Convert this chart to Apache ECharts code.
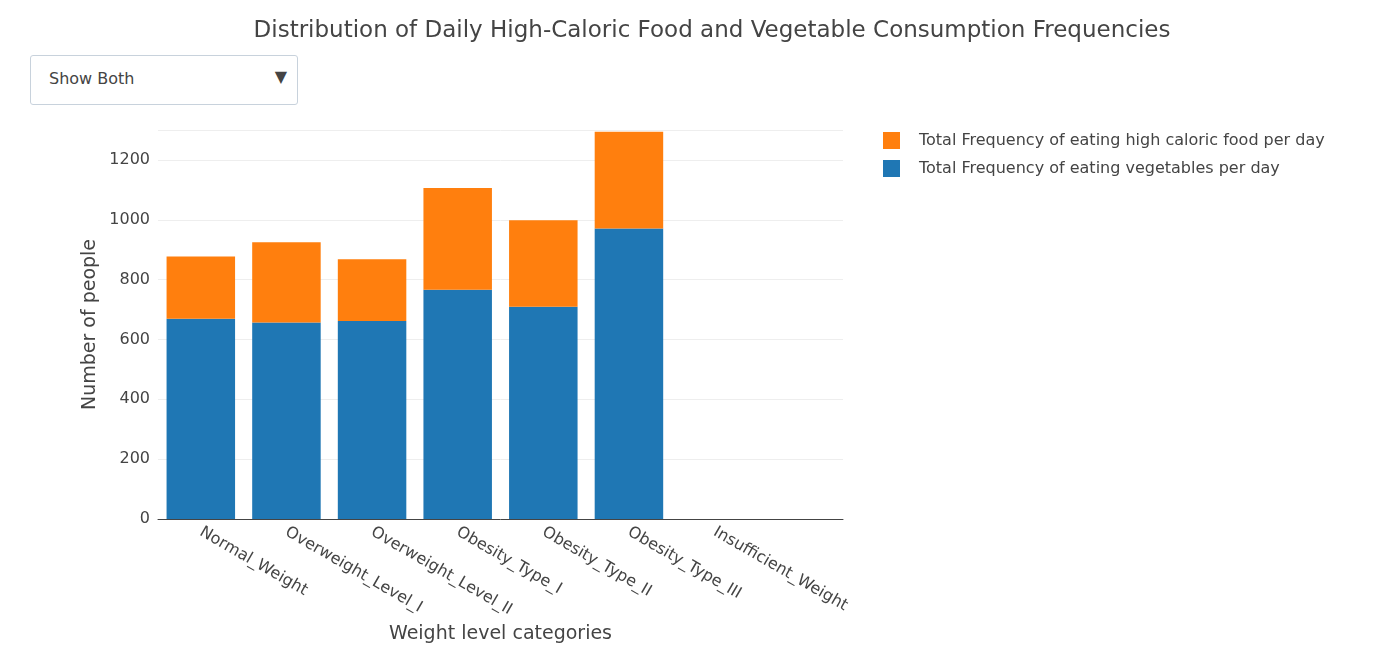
<!DOCTYPE html>
<html><head><meta charset="utf-8">
<script src="https://cdn.jsdelivr.net/npm/echarts@6/dist/echarts.min.js"></script>
<style>body{margin:0;background:#fff}#c{width:1392px;height:649px}
#sel{position:absolute;left:30px;top:55px;width:268px;height:50px;border:1px solid #c8d2dc;border-radius:3px;box-sizing:border-box;font:16px "DejaVu Sans",sans-serif;color:#444;padding:13px 18px;background:#fff}
#sel span{position:absolute;right:10px;top:11px;font-size:16px}</style></head>
<body><div id="c"></div><div id="sel">Show Both<span>▼</span></div>
<script>
const categories=['Normal_Weight','Overweight_Level_I','Overweight_Level_II','Obesity_Type_I','Obesity_Type_II','Obesity_Type_III','Insufficient_Weight',''];
const vegetables=[669,657,662,766,709,971,0,0];
const highCaloric=[208,268,206,340,289,323,0,0];
const ch=echarts.init(document.getElementById('c'));
const font='"DejaVu Sans", sans-serif';
ch.setOption({
 animation:false,
 title:{text:'Distribution of Daily High-Caloric Food and Vegetable Consumption Frequencies',left:707,top:15,textAlign:'center',textStyle:{fontFamily:font,fontSize:23,fontWeight:'normal',color:'#444'}},
 legend:{left:878,top:127,orient:'vertical',itemWidth:17,itemHeight:17,itemGap:11,icon:'rect',textStyle:{fontFamily:font,fontSize:16,color:'#444',padding:[0,0,0,14]},
  data:['Total Frequency of eating high caloric food per day','Total Frequency of eating vegetables per day']},
 grid:{left:158,right:549,top:130,bottom:130},
 xAxis:{type:'category',data:categories,name:'Weight level categories',nameLocation:'middle',nameGap:100,nameTextStyle:{fontFamily:font,fontSize:19,color:'#444'},
  axisTick:{show:false},axisLine:{lineStyle:{color:'#444'}},axisLabel:{rotate:-30,fontFamily:font,fontSize:16,color:'#444',interval:0,margin:12}},
 yAxis:{type:'value',min:0,max:1300,interval:200,name:'Number of people',nameLocation:'middle',nameGap:58,nameTextStyle:{fontFamily:font,fontSize:19,color:'#444'},
  axisLabel:{fontFamily:font,fontSize:16,color:'#444',showMaxLabel:false,formatter:v=>String(v)},splitLine:{lineStyle:{color:'#eee'}}},
 series:[
  {name:'Total Frequency of eating vegetables per day',type:'bar',stack:'a',data:vegetables,barCategoryGap:'20%',itemStyle:{color:'#1f77b4'}},
  {name:'Total Frequency of eating high caloric food per day',type:'bar',stack:'a',data:highCaloric,itemStyle:{color:'#ff7f0e'}}
 ]
});
</script></body></html>
